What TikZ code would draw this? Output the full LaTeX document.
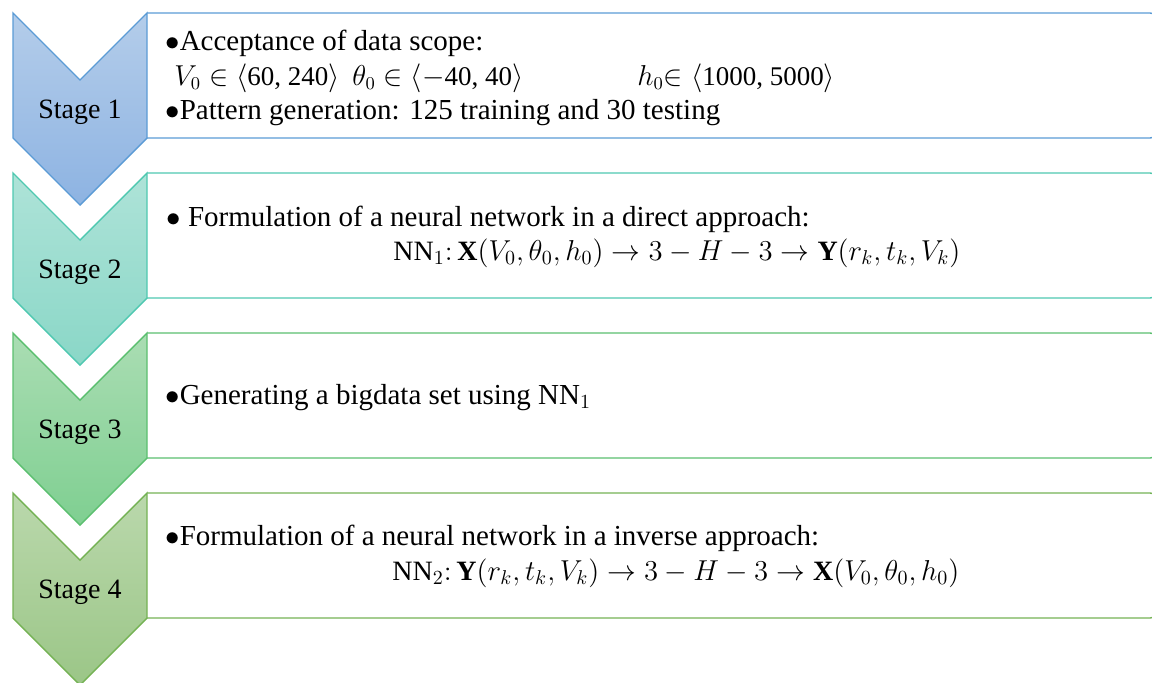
\documentclass[tikz,border=0pt]{standalone}
\usepackage{amssymb}
\usepackage{fontspec}
\setmainfont{Liberation Serif}
\newcommand{\itemdot}{$\bullet$}
\definecolor{lineA}{HTML}{5B9BD5}\definecolor{topA}{HTML}{B4CDEA}\definecolor{botA}{HTML}{8DB3E2}
\definecolor{lineB}{HTML}{4FC8B0}\definecolor{topB}{HTML}{AEE3D8}\definecolor{botB}{HTML}{8AD7C7}
\definecolor{lineC}{HTML}{5BBF6F}\definecolor{topC}{HTML}{AADDB3}\definecolor{botC}{HTML}{7FCF91}
\definecolor{lineD}{HTML}{74B254}\definecolor{topD}{HTML}{BAD8AC}\definecolor{botD}{HTML}{9BC687}
\tikzset{
  stagefont/.style={font=\fontsize{14}{17}\selectfont},
  chevron/.style={line width=0.7pt},
  stagebox/.style={line width=0.7pt, rounded corners=3pt},
  itemline/.style={font=\fontsize{14.5}{17}\selectfont, anchor=base west, inner sep=0pt},
  mathline/.style={font=\fontsize{14}{17}\selectfont, anchor=base west, inner sep=0pt},
  rangeline/.style={font=\fontsize{13.5}{16}\selectfont, anchor=base west, inner sep=0pt},
}
\begin{document}
\begin{tikzpicture}[x=0.5pt,y=-0.5pt]
	\useasboundingbox (0,0) rectangle (1152,682);
	\clip (0,0) rectangle (1152,682);
	\foreach \n/\y/\c in {1/13/A,2/173/B,3/333/C,4/493/D}{
		\draw[stagebox, draw=line\c] (147,\y+125) -- (1156,\y+125) -- (1156,\y) -- (147,\y);
		\shadedraw[top color=top\c, bottom color=bot\c, draw=line\c, chevron] (13,\y) -- (80,\y+67) -- (147,\y) -- (147,\y+125) -- (80,\y+192) -- (13,\y+125) -- cycle;
		\node[stagefont, anchor=base] (stage\n) at (80,\y+105) {Stage \n};
	}
	\node[itemline] (scope) at (165,50) {\itemdot Acceptance of data scope:};
	\node[rangeline] (vrange) at (174,85) {$V_0\in\langle$60, 240$\rangle$};
	\node[rangeline] (thrange) at (352,85) {$\theta_0\in\langle$$-$40, 40$\rangle$};
	\node[rangeline] (hrange) at (637,85) {$h_0$$\in\langle$1000, 5000$\rangle$};
	\node[itemline] (patterns) at (165,119) {\itemdot Pattern generation: 125 training and 30 testing};
	\node[itemline] (direct) at (166,226) {\itemdot{} Formulation of a neural network in a direct approach:};
	\node[mathline] (nnone) at (393,260) {$\mathrm{NN}_1\colon\mathbf{X}(V_0,\theta_0,h_0)\to 3-H-3\to\mathbf{Y}(r_k,t_k,V_k)$};
	\node[itemline] (bigdata) at (165,404) {\itemdot Generating a bigdata set using $\mathrm{NN}_1$};
	\node[itemline] (inverse) at (165,545) {\itemdot Formulation of a neural network in a inverse approach:};
	\node[mathline] (nntwo) at (392,580) {$\mathrm{NN}_2\colon\mathbf{Y}(r_k,t_k,V_k)\to 3-H-3\to\mathbf{X}(V_0,\theta_0,h_0)$};
\end{tikzpicture}
\end{document}
